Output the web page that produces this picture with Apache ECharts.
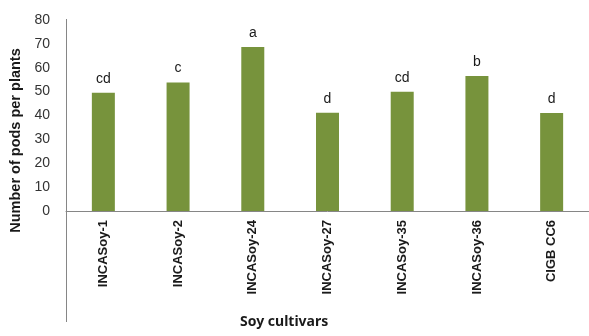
<!DOCTYPE html>
<html>
<head>
<meta charset="utf-8">
<script src="https://cdn.jsdelivr.net/npm/echarts@6/dist/echarts.min.js"></script>
<style>
  html, body { margin: 0; padding: 0; background: #fff; }
  #chart { width: 589px; height: 336px; }
</style>
</head>
<body>
<div id="chart"></div>
<script>
const cultivars = ['INCASoy-1', 'INCASoy-2', 'INCASoy-24', 'INCASoy-27', 'INCASoy-35', 'INCASoy-36', 'CIGB CC6']
const pods = [49.5, 53.8, 68.7, 41.1, 49.9, 56.5, 41.0]
const letters = ['cd', 'c', 'a', 'd', 'cd', 'b', 'd']

const chart = echarts.init(document.getElementById('chart'))
chart.setOption({
  animation: false,
  grid: { left: 66, top: 20, width: 527, height: 191 },
  title: {
    text: 'Soy cultivars',
    left: 240,
    top: 315,
    padding: 0,
    textStyle: { fontFamily: 'Noto Sans', fontWeight: 'bold', fontSize: 14, color: '#1a1a1a' }
  },
  xAxis: {
    type: 'category',
    data: cultivars,
    axisLine: { lineStyle: { color: '#868686', width: 1 } },
    axisTick: { show: false },
    axisLabel: {
      rotate: 90,
      margin: 9,
      interval: 0,
      fontFamily: 'Liberation Sans',
      fontWeight: 'bold',
      fontSize: 13,
      color: '#1a1a1a'
    }
  },
  yAxis: {
    type: 'value',
    min: 0,
    max: 80,
    interval: 10,
    name: 'Number of pods per plants',
    nameLocation: 'middle',
    nameGap: 42,
    nameTextStyle: {
      fontFamily: 'Liberation Sans',
      fontWeight: 'bold',
      fontSize: 14.5,
      color: '#1a1a1a',
      padding: [0, 50, 0, 0]
    },
    axisLine: { show: false },
    axisTick: { show: false },
    splitLine: { show: false },
    axisLabel: { margin: 16, fontFamily: 'Liberation Sans', fontSize: 14, color: '#333' }
  },
  series: [{
    type: 'bar',
    data: pods,
    barWidth: 23,
    itemStyle: { color: '#77933C' },
    label: {
      show: true,
      position: 'top',
      distance: 7,
      fontFamily: 'Liberation Sans',
      fontSize: 14,
      color: '#1a1a1a',
      formatter: p => letters[p.dataIndex]
    }
  }]
})

// y axis line, continued down past the category labels
const axisTop = chart.convertToPixel({ yAxisIndex: 0 }, 80)
chart.setOption({
  graphic: [{
    type: 'line',
    shape: { x1: 66.5, y1: axisTop - 1, x2: 66.5, y2: 322 },
    style: { stroke: '#868686', lineWidth: 1 }
  }]
})
</script>
</body>
</html>
